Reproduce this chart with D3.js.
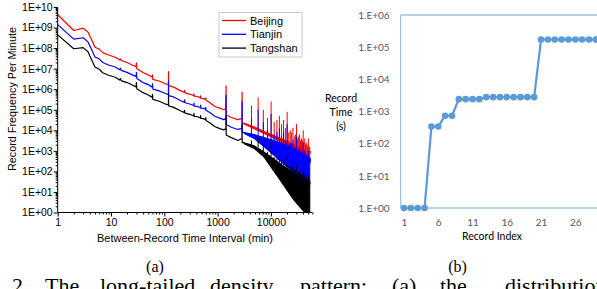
<!DOCTYPE html>
<html>
<head>
<meta charset="utf-8">
<script src="https://cdn.jsdelivr.net/npm/d3@7"></script>
<style>
  body { margin: 0; background: #fff; }
  svg { display: block; }
</style>
</head>
<body>
<svg id="chart" width="597" height="289"></svg>
<script>
// ---- panel (a): record frequency vs between-record interval (log-log) ----
var cities = ["Beijing", "Tianjin", "Tangshan"];
var cityColors = ["#ff0000", "#0000ff", "#000000"];

// clean part of each curve [minutes, frequency], spikes written as three points
var beijingCurve = [[1,4.2e9],[2,7.2e8],[3,9.3e8],[3.7,6.0e8],[4.2,3.0e8],[5,1.1e8],[6,8.9e7],[7,6.0e7],[9,4.6e7],[12,3.6e7],[14.5,2.7e7],[15,3.0e7],[15.5,2.5e7],[20,2.0e7],[25,1.5e7],[29.5,1.26e7],[30,1.9e7],[30.5,1.0e7],[40,6.5e6],[50,5.0e6],[59.5,3.8e6],[60,5.0e6],[61,3.0e6],[80,2.5e6],[100,1.95e6],[119.5,1.6e6],[120,7.2e6],[120.5,1.5e6],[150,1.26e6],[200,8.5e5],[235,7.1e5],[240,8.9e5],[245,6.6e5],[300,5.8e5],[355,4.8e5],[360,6.0e5],[365,4.6e5],[420,4.4e5],[475,3.8e5],[480,4.8e5],[485,3.6e5],[540,3.5e5],[595,3.2e5],[600,3.8e5],[605,2.9e5],[700,2.3e5],[900,1.4e5],[1100,1.2e5],[1300,1.0e5],[1430,1.1e5],[1440,1.45e6],[1450,5.6e4],[1800,4.2e4],[2400,3.3e4],[2870,3.8e4],[2880,7.2e5],[2890,2.2e4],[3130,2.2e4]];
var tianjinCurve = [[1,1.38e9],[2,2.75e8],[3,3.2e8],[3.7,2.0e8],[4.2,1.0e8],[5,3.7e7],[6,3.0e7],[7,2.0e7],[9,1.5e7],[12,1.2e7],[14.5,8.9e6],[15,1.05e7],[15.5,8.3e6],[20,6.6e6],[25,5.0e6],[29.5,4.2e6],[30,6.6e6],[30.5,3.3e6],[40,2.1e6],[50,1.66e6],[59.5,1.26e6],[60,1.8e6],[61,1.0e6],[80,8.3e5],[100,6.5e5],[119.5,5.4e5],[120,2.5e6],[120.5,4.9e5],[150,4.2e5],[200,2.8e5],[235,2.3e5],[240,3.0e5],[245,2.2e5],[300,1.9e5],[355,1.6e5],[360,2.1e5],[365,1.5e5],[420,1.45e5],[475,1.26e5],[480,1.66e5],[485,1.2e5],[540,1.17e5],[595,1.05e5],[600,1.3e5],[605,9.5e4],[700,7.6e4],[900,4.7e4],[1100,3.9e4],[1300,3.3e4],[1430,3.7e4],[1440,5.0e5],[1450,1.9e4],[1800,1.4e4],[2400,1.1e4],[2870,1.26e4],[2880,2.5e5],[2890,7.9e3],[3130,7.9e3]];
var tangshanCurve = [[1,4.4e8],[2,9.3e7],[3,1.05e8],[3.7,6.6e7],[4.2,3.2e7],[5,1.2e7],[6,9.3e6],[7,6.3e6],[9,4.8e6],[12,3.8e6],[14.5,2.8e6],[15,3.3e6],[15.5,2.6e6],[20,2.1e6],[25,1.6e6],[29.5,1.3e6],[30,2.1e6],[30.5,1.05e6],[40,6.8e5],[50,5.2e5],[59.5,4.0e5],[60,5.6e5],[61,3.2e5],[80,2.6e5],[100,2.0e5],[119.5,1.7e5],[120,6.0e5],[120.5,1.55e5],[150,1.3e5],[200,8.9e4],[235,7.4e4],[240,9.3e4],[245,6.9e4],[300,6.0e4],[355,5.0e4],[360,6.6e4],[365,4.8e4],[420,4.6e4],[475,4.0e4],[480,5.2e4],[485,3.8e4],[540,3.7e4],[595,3.3e4],[600,4.2e4],[605,3.0e4],[700,2.4e4],[900,1.5e4],[1100,1.2e4],[1300,1.05e4],[1430,1.2e4],[1440,5.0e4],[1450,5.9e3],[1800,4.4e3],[2400,3.2e3],[2870,4.0e3],[2880,2.0e4],[2890,2.5e3],[3130,2.5e3]];

// noisy tail: [minutes, lower envelope, upper envelope]
var tailIntervals = [3130, 4810, 7400, 11400, 17500, 26900, 41400, 53600];
var beijingTailLow  = [20000, 12000, 7000, 4000, 2500, 1400, 700, 450];
var beijingTailHigh = [22400, 15000, 8900, 5600, 3500, 2000, 1100, 710];
var tianjinTailLow  = [7000, 4000, 1600, 600, 220, 90, 35, 22];
var tianjinTailHigh = [7900, 6300, 4500, 3200, 2200, 1300, 700, 450];
var tangshanTailLow  = [2200, 1300, 500, 100, 20, 4, 1.1, 1];
var tangshanTailHigh = [2500, 1800, 900, 400, 180, 89, 40, 25];

// daily peaks (3 to 38 days, in minutes) in the tail
var dayIntervals = [4320,5760,7200,8640,10080,11520,12960,14400,15840,17280,18720,20160,21600,23040,24480,25920,27360,28800,30240,31680,33120,34560,36000,37440,38880,40320,41760,43200,44640,46080,47520,48960,50400,51840,53280,54720];
var beijingPeakBase = [18000,13000,9500,7500,6300,5500,4800,4200,3800,3400,3100,2900,2600,2400,2200,2000,1900,1800,1700,1600,1500,1400,1300,1250,1200,1150,1100,1050,1000,950,900,860,820,780,750,720];
var beijingPeak = [1.6e5,4.0e5,1.0e5,4.0e4,2.5e5,2.5e4,3.2e4,5.0e4,2.0e4,3.2e4,1.3e4,7.9e4,7900,10000,7900,13000,5000,6300,20000,4000,5000,6300,3200,4000,3200,10000,2500,4000,2000,2500,2000,1600,4000,1300,1600,1000];
var tianjinPeakBase = [6800,5600,4200,3600,3300,3000,2700,2400,2200,2000,1900,1800,1600,1500,1400,1300,1250,1200,1100,1000,960,910,860,820,780,740,700,660,630,600,570,540,510,490,470,450];
var tianjinPeak = [4.0e4,1.0e5,2.5e4,1.0e4,6.3e4,6300,8000,12500,5000,8000,3300,20000,2000,2500,2000,3300,1250,1600,5000,1000,1250,1600,800,1000,800,2500,630,1000,500,630,500,400,1000,330,400,250];
var tangshanPeakBase = [2000,1500,900,700,520,400,330,270,230,200,180,160,140,125,115,105,95,87,79,72,66,62,58,54,49,47,44,41,38,36,34,32,30,29,28,26];
var tangshanPeak = [3200,5000,1800,900,2500,500,450,600,300,380,230,600,160,170,150,190,110,120,200,85,95,110,75,80,70,120,55,70,48,52,46,40,60,34,38,30];

var freqTicks = [1,1e1,1e2,1e3,1e4,1e5,1e6,1e7,1e8,1e9,1e10];
var intervalTicks = [1,10,100,1000,10000];

// ---- panel (b): record time by record index ----
var recordIndex = [1,2,3,4,5,6,7,8,9,10,11,12,13,14,15,16,17,18,19,20,21,22,23,24,25,26,27,28,29,30];
var recordTime = [1,1,1,1,340,340,740,740,2420,2420,2420,2420,2790,2790,2790,2790,2790,2790,2790,2790,173000,173000,173000,173000,173000,173000,173000,173000,173000,173000];
var recordTimeTicks = [1,1e1,1e2,1e3,1e4,1e5,1e6];
var recordIndexTicks = [1,6,11,16,21,26];

var svg = d3.select("#chart");
var sans = "'Liberation Sans', Arial, sans-serif";
var calibri = "Lato, 'Open Sans', sans-serif";
var serif = "'Liberation Serif', 'Times New Roman', serif";

// ===== panel (a) =====
var xA = d3.scaleLog().domain([1, 60000]).range([57.7, 312.4]);
var yA = d3.scaleLog().domain([1, 1e10]).range([212.5, 7]);

var minorX = [];
for (var e = 0; e < 5; e++) {
    for (var m = 2; m <= 9; m++) {
        if (m * Math.pow(10, e) <= 60000) minorX.push(m * Math.pow(10, e));
    }
}
var minorY = [];
for (var e = 0; e < 10; e++) {
    for (var m = 2; m <= 9; m++) minorY.push(m * Math.pow(10, e));
}

var gA = svg.append("g");

var series = [
    {curve: beijingCurve, low: beijingTailLow, high: beijingTailHigh, base: beijingPeakBase, peak: beijingPeak},
    {curve: tianjinCurve, low: tianjinTailLow, high: tianjinTailHigh, base: tianjinPeakBase, peak: tianjinPeak},
    {curve: tangshanCurve, low: tangshanTailLow, high: tangshanTailHigh, base: tangshanPeakBase, peak: tangshanPeak}
];

var lineA = d3.line().x(function(d) { return xA(d[0]); }).y(function(d) { return yA(d[1]); });
var bandA = d3.area()
    .x(function(d) { return xA(d[0]); })
    .y0(function(d) { return yA(d[1]); })
    .y1(function(d) { return yA(d[2]); });

series.forEach(function(s, i) {
    var col = cityColors[i];
    var g = gA.append("g");
    g.append("path").attr("d", lineA(s.curve))
        .attr("fill", "none").attr("stroke", col).attr("stroke-width", 1.2)
        .attr("stroke-linejoin", "round");
    var tail = tailIntervals.map(function(t, k) { return [t, s.low[k], s.high[k]]; });
    g.append("path").attr("d", bandA(tail))
        .attr("fill", col).attr("stroke", col).attr("stroke-width", 1);
    g.selectAll("line.spike").data(dayIntervals).enter().append("line")
        .attr("x1", function(d) { return xA(d); }).attr("x2", function(d) { return xA(d); })
        .attr("y1", function(d, k) { return yA(s.base[k]); })
        .attr("y2", function(d, k) { return yA(s.peak[k]); })
        .attr("stroke", col).attr("stroke-width", 1);
});

// axes
gA.append("g").attr("transform", "translate(57.7,0)")
    .call(d3.axisLeft(yA).tickValues(freqTicks).tickSize(4).tickPadding(1)
        .tickFormat(function(d) { var p = Math.round(Math.log10(d)); return "1E+" + (p < 10 ? "0" + p : p); }));
gA.append("g").attr("transform", "translate(57.7,0)")
    .call(d3.axisLeft(yA).tickValues(minorY).tickSize(2).tickFormat(""));
gA.append("g").attr("transform", "translate(0,212.5)")
    .call(d3.axisBottom(xA).tickValues(intervalTicks).tickSize(4).tickPadding(2.5).tickFormat(d3.format("d")));
gA.append("g").attr("transform", "translate(0,212.5)")
    .call(d3.axisBottom(xA).tickValues(minorX).tickSize(2).tickFormat(""));
gA.selectAll("path.domain").remove();
gA.append("line").attr("x1", 57.7).attr("x2", 57.7).attr("y1", 7).attr("y2", 212.5).attr("stroke", "#000");
gA.append("line").attr("x1", 57.7).attr("x2", 312.4).attr("y1", 212.5).attr("y2", 212.5).attr("stroke", "#000");
gA.selectAll(".tick text").attr("font-family", sans).attr("font-size", "10.5px").attr("fill", "#000");
gA.selectAll(".tick line").attr("stroke", "#000");

gA.append("text").attr("x", 185).attr("y", 242).attr("text-anchor", "middle")
    .attr("font-family", sans).attr("font-size", "11px").text("Between-Record Time Interval (min)");
gA.append("text").attr("transform", "translate(16,99) rotate(-90)").attr("text-anchor", "middle")
    .attr("font-family", sans).attr("font-size", "10.8px").text("Record Frequency Per Minute");

// legend
var leg = gA.append("g");
leg.append("rect").attr("x", 219).attr("y", 12.5).attr("width", 83).attr("height", 44.5)
    .attr("fill", "#fff").attr("stroke", "#c8c8c8");
cities.forEach(function(c, i) {
    var ly = 20.5 + i * 13.8;
    leg.append("line").attr("x1", 222).attr("x2", 246).attr("y1", ly).attr("y2", ly)
        .attr("stroke", cityColors[i]).attr("stroke-width", 1.3);
    leg.append("text").attr("x", 250).attr("y", ly + 4).attr("font-family", sans)
        .attr("font-size", "11px").text(c);
});

// ===== panel (b) =====
var xB = d3.scaleLinear().domain([0.5, 30.5]).range([400.6, 606.1]);
var yB = d3.scaleLog().domain([1, 1e6]).range([208, 15]);
var frameColor = "#9cc0e6";
var pointColor = "#5b9bd5";
var gB = svg.append("g");

gB.append("line").attr("x1", 400.6).attr("x2", 400.6).attr("y1", 15).attr("y2", 208)
    .attr("stroke", frameColor).attr("stroke-width", 1.3);
gB.append("line").attr("x1", 400.6).attr("x2", 597).attr("y1", 15).attr("y2", 15)
    .attr("stroke", frameColor).attr("stroke-width", 1.3);
gB.append("line").attr("x1", 400.6).attr("x2", 597).attr("y1", 208).attr("y2", 208)
    .attr("stroke", frameColor).attr("stroke-width", 1.3);

gB.append("g").attr("transform", "translate(400.6,0)")
    .call(d3.axisLeft(yB).tickValues(recordTimeTicks).tickSize(0).tickPadding(11)
        .tickFormat(function(d) { return "1.E+0" + Math.round(Math.log10(d)); }));
gB.append("g").attr("transform", "translate(0,208)")
    .call(d3.axisBottom(xB).tickValues(recordIndexTicks).tickSize(0).tickPadding(11));
gB.selectAll(".domain").remove();
gB.selectAll(".tick text").attr("font-family", calibri).attr("font-size", "10px").attr("fill", "#595959");

var lineB = d3.line().x(function(d, i) { return xB(recordIndex[i]); }).y(function(d) { return yB(d); });
gB.append("path").attr("d", lineB(recordTime)).attr("fill", "none")
    .attr("stroke", pointColor).attr("stroke-width", 2.2).attr("stroke-linejoin", "round");
gB.selectAll("circle").data(recordTime).enter().append("circle")
    .attr("cx", function(d, i) { return xB(recordIndex[i]); })
    .attr("cy", function(d) { return yB(d); })
    .attr("r", 3.3).attr("fill", pointColor);

gB.append("text").attr("x", 492).attr("y", 240).attr("text-anchor", "middle")
    .attr("font-family", calibri).attr("font-size", "10.5px").text("Record Index");
["Record", "Time", "(s)"].forEach(function(t, i) {
    gB.append("text").attr("x", 341).attr("y", 101.5 + i * 14).attr("text-anchor", "middle")
        .attr("font-family", calibri).attr("font-size", "10.5px").text(t);
});

// ===== sub-captions and figure caption =====
svg.append("text").attr("x", 155).attr("y", 272).attr("text-anchor", "middle")
    .attr("font-family", serif).attr("font-size", "16px").text("(a)");
svg.append("text").attr("x", 457.5).attr("y", 272).attr("text-anchor", "middle")
    .attr("font-family", serif).attr("font-size", "16px").text("(b)");

var captionWords = ["2.", "The", "long-tailed", "density", "pattern:", "(a)", "the", "distribution"];
var captionX = [12, 45, 100, 210, 300, 392, 440, 505];
captionWords.forEach(function(w, i) {
    svg.append("text").attr("x", captionX[i]).attr("y", 293)
        .attr("font-family", serif).attr("font-size", "22px").text(w);
});
</script>
</body>
</html>
